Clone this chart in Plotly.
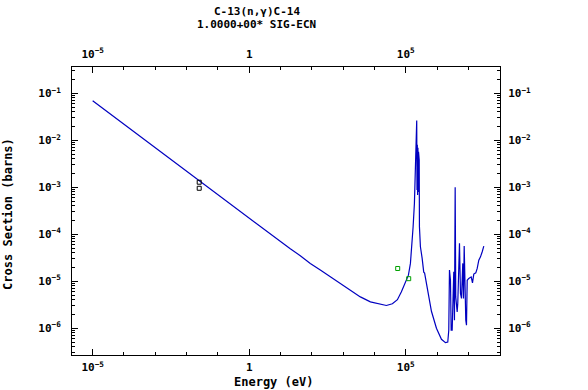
import plotly.graph_objects as go

# ---- data ----
energy_ev = [1e-5, 1e-4, 1e-3, 1e-2, 0.0253, 0.1, 1.0, 10.0, 20.5, 42.8, 89.3, 186.6, 389, 813,
             1698, 3548, 7413, 15460, 24050, 37420, 54080, 72610, 97500, 121600, 140900,
             159700, 171800, 189100, 203600, 208000, 224000, 229000, 234000, 239000, 245000,
             250000, 256000, 263500, 269000, 273500, 294000, 333000, 375000, 400000, 511000,
             661000, 955000, 1380000, 1853000, 2197000, 2364000, 2490000, 2680000, 2820000,
             3036000, 3415000, 3594000, 3785000, 3954000, 4385000, 4583000, 4933000, 5196000,
             5593000, 6022000, 6627000, 6981000, 7350000, 7680000, 8265000, 8706000, 9170000,
             10310000, 12300000, 13530000, 14890000, 17260000, 19140000, 21530000, 24390000,
             27660000, 31120000]
sigma_b = [0.069, 0.0218, 0.0069, 0.00218, 0.00137, 6.9e-4, 2.18e-4, 6.9e-5, 4.9e-5, 3.5e-5,
           2.4e-5, 1.73e-5, 1.24e-5, 8.97e-6, 6.46e-6, 4.65e-6, 3.64e-6, 3.2e-6, 3.05e-6,
           3.33e-6, 4.05e-6, 6.0e-6, 9.12e-6, 1.35e-5, 2.4e-5, 6.4e-5, 1.45e-4, 4.56e-4,
           2.75e-3, 0.0102, 0.0263, 8.8e-4, 7.98e-3, 6.86e-4, 6.89e-3, 7.94e-4, 5.66e-3,
           8.8e-4, 3.82e-3, 1.45e-4, 5.41e-5, 3.11e-5, 1.56e-5, 1.49e-5, 5.5e-6, 2.3e-6,
           1.0e-6, 5.82e-7, 4.95e-7, 5.1e-7, 9.06e-7, 1.73e-5, 1.05e-5, 9.06e-7, 9.06e-7,
           1.59e-5, 1.48e-6, 1.0e-3, 4.65e-6, 2.23e-6, 3.37e-6, 1.59e-5, 6.4e-5, 5.5e-6,
           4.3e-6, 2.4e-5, 4.3e-6, 5.6e-5, 4.65e-6, 1.48e-6, 1.16e-6, 1.05e-5, 1.15e-5,
           1.24e-5, 9.25e-6, 1.42e-5, 1.51e-5, 1.88e-5, 2.82e-5, 3.31e-5, 4.24e-5, 5.6e-5]

exp_black_e = [0.0253, 0.0253]
exp_black_s = [1.28e-3, 9.52e-4]
exp_green_e = [55300, 124200]
exp_green_s = [1.87e-5, 1.135e-5]

x_tickvals = [1e-5, 1.0, 1e5]
x_ticktext = ["10<sup>\u22125</sup>", "1", "10<sup>5</sup>"]
x_minor = [10.0 ** k for k in range(-5, 9)]
y_tickvals = [1e-6, 1e-5, 1e-4, 1e-3, 1e-2, 1e-1]
y_ticktext = ["10<sup>\u22126</sup>", "10<sup>\u22125</sup>", "10<sup>\u22124</sup>",
              "10<sup>\u22123</sup>", "10<sup>\u22122</sup>", "10<sup>\u22121</sup>"]
y_minor = [m * 10.0 ** k for k in range(-7, 0) for m in range(2, 10)]

title1 = "C-13(n,\u03b3)C-14"
title2 = "1.0000+00* SIG-ECN"
xlabel = "Energy (eV)"
ylabel = "Cross Section (barns)"

FONT = "DejaVu Sans Mono"
XR = [-5.66, 8.01]
YR = [-6.569, -0.441]

fig = go.Figure()
fig.add_trace(go.Scatter(x=energy_ev, y=sigma_b, mode="lines",
                         line=dict(color="#0000c0", width=1.2), showlegend=False))
fig.add_trace(go.Scatter(x=exp_black_e, y=exp_black_s, mode="markers",
                         marker=dict(symbol="square-open", size=4, color="black",
                                     line=dict(width=1, color="black")), showlegend=False))
fig.add_trace(go.Scatter(x=exp_green_e, y=exp_green_s, mode="markers",
                         marker=dict(symbol="square-open", size=4, color="#00a000",
                                     line=dict(width=1, color="#00a000")), showlegend=False))
# invisible trace for the mirrored (top/right) axes
fig.add_trace(go.Scatter(x=[1.0], y=[1e-3], xaxis="x2", yaxis="y2", mode="markers",
                         marker=dict(opacity=0), hoverinfo="skip", showlegend=False))

tickfont = dict(family=FONT, size=11, color="black", weight="bold")

common_x = dict(type="log", range=XR, tickmode="array", tickvals=x_tickvals,
                ticktext=x_ticktext, ticks="inside", ticklen=6, tickcolor="black",
                showgrid=False, zeroline=False, showline=True, linecolor="black",
                linewidth=1, tickfont=tickfont, automargin=False,
                minor=dict(tickmode="array", tickvals=x_minor, ticks="inside",
                           ticklen=3, tickcolor="black", showgrid=False))
common_y = dict(type="log", range=YR, tickmode="array", tickvals=y_tickvals,
                ticktext=y_ticktext, ticks="inside", ticklen=6, tickcolor="black",
                showgrid=False, zeroline=False, showline=True, linecolor="black",
                linewidth=1, tickfont=tickfont, automargin=False,
                minor=dict(tickmode="array", tickvals=y_minor, ticks="inside",
                           ticklen=3, tickcolor="black", showgrid=False))

fig.update_layout(
    width=588, height=390,
    margin=dict(l=72, r=88, t=67, b=35, autoexpand=False),
    paper_bgcolor="white", plot_bgcolor="white",
    xaxis=dict(**common_x, side="bottom", mirror=True, ticklabelstandoff=2),
    xaxis2=dict(**common_x, side="top", overlaying="x", anchor="y", ticklabelstandoff=4),
    yaxis=dict(**common_y, side="left", mirror=True, ticklabelstandoff=8),
    yaxis2=dict(**common_y, side="right", overlaying="y", anchor="x", ticklabelstandoff=5),
    annotations=[
        dict(text=title1, xref="paper", yref="paper", x=0.432, y=1.194, showarrow=False,
             xanchor="center", yanchor="middle",
             font=dict(family=FONT, size=11, color="black", weight="bold")),
        dict(text=title2, xref="paper", yref="paper", x=0.432, y=1.146, showarrow=False,
             xanchor="center", yanchor="middle",
             font=dict(family=FONT, size=11, color="black", weight="bold")),
        dict(text=xlabel, xref="paper", yref="paper", x=0.47, y=-0.093, showarrow=False,
             xanchor="center", yanchor="middle",
             font=dict(family=FONT, size=12, color="black", weight="bold")),
        dict(text=ylabel, xref="paper", yref="paper", x=-0.1495, y=0.49, showarrow=False,
             xanchor="center", yanchor="middle", textangle=-90,
             font=dict(family=FONT, size=12, color="black", weight="bold")),
    ],
)

fig.write_html("out.html", config={"displayModeBar": False},
               post_script="document.body.style.margin='0';document.body.style.overflow='hidden';")
